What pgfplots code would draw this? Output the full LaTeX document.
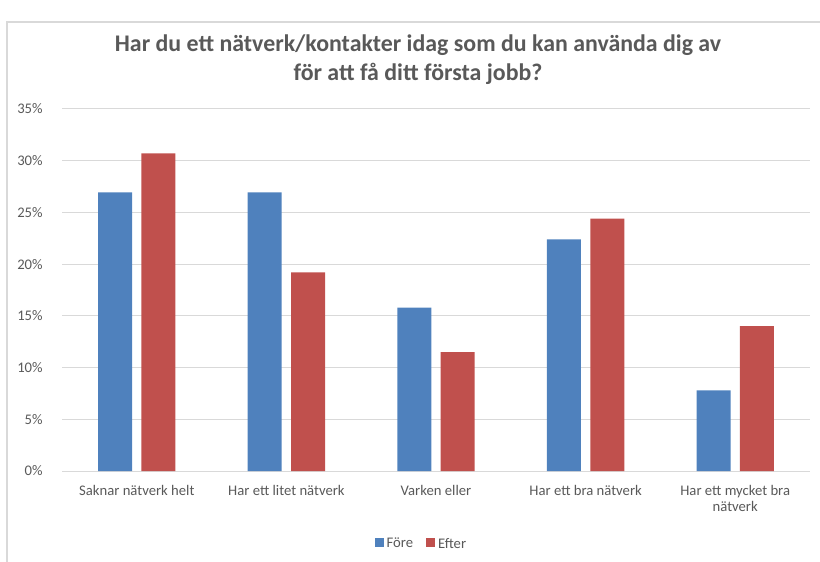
\documentclass[border=0pt]{standalone}
\usepackage{fontspec}
\setmainfont{Carlito}
\usepackage{pgfplots}
\pgfplotsset{compat=1.18}
\definecolor{cblue}{HTML}{4F81BD}
\definecolor{cred}{HTML}{C0504D}
\definecolor{cgrid}{HTML}{D9D9D9}
\definecolor{ctext}{HTML}{595959}
\begin{document}
\begin{tikzpicture}
\useasboundingbox (0pt,0pt) rectangle (615pt,420.75pt);
\draw[cgrid,line width=0.9pt] (5.25pt,-5pt) -- (5.25pt,404.25pt) -- (625pt,404.25pt);
\node[font=\fontsize{17.9pt}{21pt}\selectfont\bfseries,text=ctext,anchor=base] at (313.5pt,382pt) {Har du ett nätverk/kontakter idag som du kan använda dig av};
\node[font=\fontsize{17.9pt}{21pt}\selectfont\bfseries,text=ctext,anchor=base] at (313.5pt,360pt) {för att få ditt första jobb?};
\begin{axis}[
  at={(46.5pt,67.5pt)}, anchor=south west,
  scale only axis, width=561pt, height=271.5pt,
  ybar=7pt, bar width=25.5pt,
  xmin=-0.5, xmax=4.5, ymin=0, ymax=35,
  ytick={0,5,...,35},
  yticklabel={\pgfmathprintnumber{\tick}\%},
  /pgf/number format/assume math mode=true,
  xtick=data,
  xticklabels={Saknar nätverk helt,Har ett litet nätverk,Varken eller,Har ett bra nätverk,{Har ett mycket bra\\nätverk}},
  xticklabel style={align=center,font=\fontsize{11pt}{12pt}\selectfont,text=ctext,yshift=-7pt},
  yticklabel style={font=\fontsize{11pt}{12pt}\selectfont,text=ctext,xshift=-11pt},
  major tick length=0pt,
  ymajorgrids, grid style={cgrid,line width=0.75pt},
  axis x line*=bottom, axis y line*=left,
  x axis line style={cgrid,line width=0.75pt,-},
  y axis line style={draw=none},
  legend columns=2,
  legend style={draw=none,at={(0.481,-0.2017)},anchor=center,font=\fontsize{11pt}{12pt}\selectfont,text=ctext,/tikz/every even column/.append style={column sep=8pt}},
  legend image code/.code={\fill[#1] (0pt,-2.6pt) rectangle (6.8pt,4.2pt);},
]
\addplot[fill=cblue,draw=none] coordinates {(0,26.95) (1,26.95) (2,15.8) (3,22.4) (4,7.8)};
\addplot[fill=cred,draw=none] coordinates {(0,30.7) (1,19.2) (2,11.5) (3,24.4) (4,14.0)};
\legend{Före,Efter}
\end{axis}
\end{tikzpicture}
\end{document}
